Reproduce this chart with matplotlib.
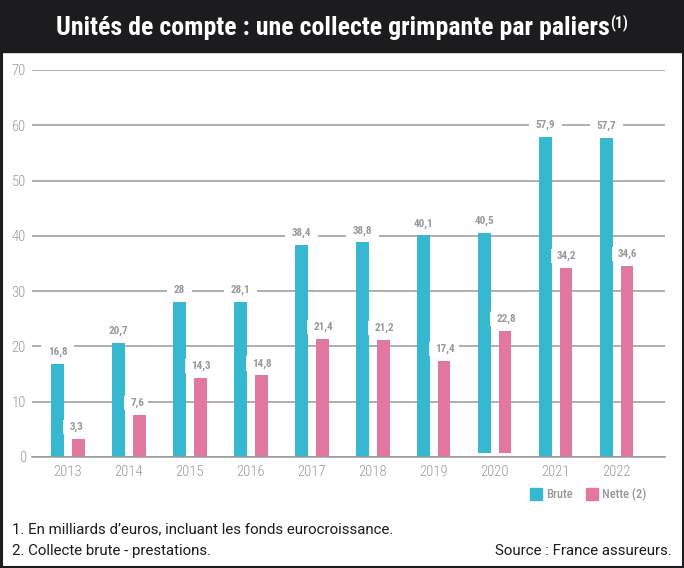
import matplotlib.pyplot as plt
import numpy as np
from matplotlib import font_manager as fm
from matplotlib.patches import Rectangle
from matplotlib.path import Path

years = ['2013', '2014', '2015', '2016', '2017', '2018', '2019', '2020', '2021', '2022']
brute = [16.8, 20.7, 28, 28.1, 38.4, 38.8, 40.1, 40.5, 57.9, 57.7]
nette = [3.3, 7.6, 14.3, 14.8, 21.4, 21.2, 17.4, 22.8, 34.2, 34.6]
# 2020 bars sit slightly above the baseline in the original
base = [0, 0, 0, 0, 0, 0, 0, 0.7, 0, 0]

CYAN = '#35b8d0'
PINK = '#e277a0'
GRAY = '#999999'
DARK = '#1c1b1d'


def pick_font():
    # look for a narrow / condensed face among the installed fonts
    entries = [(f.name, str(f.stretch)) for f in fm.fontManager.ttflist]
    names = set(n for n, _ in entries)
    for n in ['Roboto Condensed', 'Liberation Sans Narrow', 'Open Sans Condensed',
              'Noto Sans Condensed', 'DejaVu Sans Condensed']:
        if n in names:
            return n, 'normal'
    for n in ['Roboto', 'DejaVu Sans', 'Noto Sans', 'Open Sans', 'Liberation Sans']:
        for name, st in entries:
            if name == n and ('condensed' in st or 'narrow' in st):
                return n, 'condensed'
    for name, st in entries:
        if 'condensed' in st or 'Narrow' in name or 'Condensed' in name:
            return name, st
    return 'Liberation Sans', 'normal'


FAM, STRETCH = pick_font()
plt.rcParams['font.family'] = [FAM, 'DejaVu Sans']
plt.rcParams['font.stretch'] = STRETCH


def label_box(left, right, down, up):
    # white box with separate paddings (pixels) for the value labels
    def box(x0, y0, width, height, mutation_size):
        xa, xb = x0 - left, x0 + width + right
        ya, yb = y0 - down, y0 + height + up
        return Path([(xa, ya), (xb, ya), (xb, yb), (xa, yb), (xa, ya)], closed=True)
    return box


W, H = 684, 568
fig = plt.figure(figsize=(W / 100, H / 100), dpi=100)

# title bar
fig.patches.append(Rectangle((0, 1 - 52 / H), 1, 52 / H, transform=fig.transFigure,
                             color=DARK, zorder=0))
title = fig.text(0.5, 1 - 35 / H, 'Unités de compte : une collecte grimpante par paliers',
                 color='white', fontsize=17.5, fontweight='bold', ha='left', va='baseline')
sup = fig.text(0.5, 1 - 27 / H, '(1)', color='white', fontsize=10.5, fontweight='bold',
               ha='left', va='baseline')
# frame
fig.patches.append(Rectangle((0.0015, 0.002), 0.997, 0.996, transform=fig.transFigure,
                             fill=False, edgecolor=DARK, lw=2.2, zorder=5))

ax = fig.add_axes([32 / W, (H - 457) / H, (665 - 32) / W, (457 - 70) / H])
x = np.arange(len(years))
bw = 0.205
off = 0.17
brute_h = [b - o for b, o in zip(brute, base)]
nette_h = [n - o for n, o in zip(nette, base)]
ax.bar(x - off, brute_h, bw, bottom=base, color=CYAN, zorder=2)
ax.bar(x + off, nette_h, bw, bottom=base, color=PINK, zorder=2)

for i in range(len(years)):
    ax.annotate(f'{brute[i]:g}'.replace('.', ','), (x[i] - off, brute[i]),
                xytext=(0, 8.5), textcoords='offset points', ha='center', va='center',
                fontsize=8, fontweight='bold', color=GRAY, zorder=3,
                bbox=dict(boxstyle=label_box(7, 7, 2, 2), fc='white', ec='none'))
    ax.annotate(f'{nette[i]:g}'.replace('.', ','), (x[i] + off - bw / 2, nette[i]),
                xytext=(-2, 8.5), textcoords='offset points', ha='left', va='center',
                fontsize=8, fontweight='bold', color=GRAY, zorder=3,
                bbox=dict(boxstyle=label_box(6, 4, 2, 2), fc='white', ec='none'))

ax.set_xlim(-0.59, 9.79)
ax.set_ylim(0, 70)
ax.set_yticks(range(0, 71, 10))
ax.set_xticks(x)
ax.set_xticklabels(years)
ax.yaxis.grid(True, color=GRAY, lw=1.1, zorder=0)
ax.set_axisbelow(True)
for s in ['top', 'right', 'left']:
    ax.spines[s].set_visible(False)
ax.spines['bottom'].set_color(GRAY)
ax.spines['bottom'].set_linewidth(1.1)
ax.tick_params(length=0, colors=GRAY, labelsize=10.5)
ax.tick_params(axis='y', pad=4.5)
ax.tick_params(axis='x', pad=6)
for t in ax.get_xticklabels() + ax.get_yticklabels():
    t.set_fontweight('light')

# legend
lx = [530, 586]
names = ['Brute', 'Nette (2)']
cols = [CYAN, PINK]
for px, nm, c in zip(lx, names, cols):
    fig.patches.append(Rectangle((px / W, (H - 500) / H), 12 / W, 12 / H,
                                 transform=fig.transFigure, color=c))
    fig.text((px + 16) / W, (H - 494) / H, nm, fontsize=9, fontweight='medium',
             color=GRAY, va='center', ha='left')

FOOT = ['Roboto', FAM, 'DejaVu Sans']
foot = [fig.text(12 / W, (H - 533) / H, '1. En milliards d\u2019euros, incluant les fonds eurocroissance.',
                 fontsize=10.5, color=DARK, va='baseline', family=FOOT),
        fig.text(12 / W, (H - 555) / H, '2. Collecte brute - prestations.',
                 fontsize=10.5, color=DARK, va='baseline', family=FOOT),
        fig.text(672 / W, (H - 555) / H, 'Source : France assureurs.',
                 fontsize=10.5, color=DARK, va='baseline', ha='right', family=FOOT)]

# fit the title and footnotes to the widths of the original
fig.canvas.draw()
r = fig.canvas.get_renderer()
tw = title.get_window_extent(r).width
sw = sup.get_window_extent(r).width
k = 571 / (tw + sw + 1)
title.set_fontsize(17.5 * k)
sup.set_fontsize(10.5 * k)
fig.canvas.draw()
tw = title.get_window_extent(r).width
sw = sup.get_window_extent(r).width
x0 = (W - (tw + sw + 1)) / 2
title.set_x(x0 / W)
sup.set_x((x0 + tw + 1) / W)
fw = foot[0].get_window_extent(r).width
for t in foot:
    t.set_fontsize(10.5 * 384 / fw)

fig.savefig('out.png', dpi=100)
